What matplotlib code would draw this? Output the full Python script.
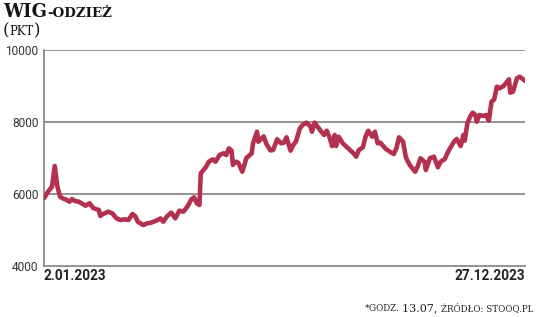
import matplotlib
matplotlib.use("Agg")
import matplotlib.pyplot as plt
import numpy as np
import pandas as pd

# ---- data ----
start_date = "2023-01-02"
day_offsets = [0, 3, 6, 8, 10, 12, 14, 17, 19, 21, 23, 26, 28, 31, 34, 37, 41, 42, 44, 48,
               51, 54, 57, 60, 63, 66, 68, 70, 74, 77, 80, 84, 87, 89, 92, 95, 98, 101, 104, 107,
               110, 112, 114, 116, 117, 119, 121, 123, 126, 128, 131, 134, 136, 138, 140, 141, 143, 145, 148, 151,
               155, 156, 159, 160, 164, 166, 169, 171, 174, 177, 179, 181, 184, 186, 188, 191, 193, 196, 199, 200,
               202, 206, 209, 211, 213, 215, 217, 218, 220, 223, 227, 231, 233, 235, 238, 240, 242, 245, 247, 249,
               251, 255, 258, 261, 263, 265, 268, 270, 271, 273, 277, 279, 281, 284, 285, 288, 291, 294, 296, 299,
               302, 306, 308, 311, 313, 314, 316, 318, 320, 322, 323, 325, 328, 330, 332, 334, 336, 338, 340, 343,
               347, 348, 350, 353, 355, 359]
values = [5881, 6064, 6203, 6778, 6203, 5925, 5880, 5833, 5786, 5861, 5805, 5786, 5742, 5675, 5742, 5603, 5556, 5389, 5444, 5508,
          5464, 5325, 5278, 5297, 5278, 5444, 5389, 5231, 5139, 5186, 5203, 5265, 5320, 5231, 5389, 5481, 5325, 5536, 5508, 5647,
          5853, 5908, 5742, 5694, 6575, 6667, 6758, 6897, 6964, 6897, 7083, 7131, 7083, 7269, 7203, 6806, 6897, 6869, 6619, 6992,
          7131, 7408, 7731, 7453, 7600, 7390, 7210, 7222, 7519, 7408, 7425, 7575, 7203, 7361, 7453, 7825, 7917, 7981, 7869, 7731,
          7981, 7778, 7639, 7758, 7592, 7333, 7639, 7333, 7592, 7408, 7269, 7131, 7036, 7222, 7297, 7592, 7758, 7592, 7731, 7408,
          7425, 7255, 7180, 7111, 7269, 7575, 7453, 7036, 6944, 6806, 6619, 6778, 6992, 6897, 6667, 6992, 7036, 6742, 6897, 6964,
          7203, 7453, 7528, 7333, 7639, 7481, 7964, 8147, 8258, 8194, 8008, 8194, 8167, 8194, 8036, 8564, 8628, 8981, 8936, 9000,
          9186, 8814, 8842, 9214, 9258, 9147]
y_ticks = [4000, 6000, 8000, 10000]
x_tick_labels = ["2.01.2023", "27.12.2023"]
title_main = "WIG"
title_sc = "-ODZIEŻ"
unit_label = "PKT"

dates = pd.Timestamp(start_date) + pd.to_timedelta(day_offsets, unit="D")

W, H = 536, 317
fig = plt.figure(figsize=(W / 100, H / 100), dpi=100)
ax = fig.add_axes([44 / W, 1 - 266 / H, (525 - 44) / W, (266 - 50) / H])

line_color = "#B3304F"
grid_color = "#8a8a8a"

ax.plot(dates, values, color=line_color, lw=3.3, solid_joinstyle="round", solid_capstyle="round", zorder=3)
ax.set_ylim(4000, 10000)
ax.set_xlim(dates[0], dates[-1])
ax.set_yticks(y_ticks)
ax.set_yticklabels([str(t) for t in y_ticks])
for t in y_ticks[1:]:
    ax.axhline(t, color=grid_color, lw=1.3, zorder=1)
for s in ["top", "right"]:
    ax.spines[s].set_visible(False)
for s in ["left", "bottom"]:
    ax.spines[s].set_color(grid_color)
    ax.spines[s].set_linewidth(1.3)
ax.tick_params(axis="both", length=0)
ax.tick_params(axis="y", pad=4, labelcolor="#333333")
for lab in ax.get_yticklabels():
    lab.set_family(["Roboto", "DejaVu Sans"])
    lab.set_fontsize(8.6)

ax.set_xticks([dates[0], dates[-1]])
ax.set_xticklabels(x_tick_labels)
ax.tick_params(axis="x", pad=2, labelcolor="#222222")
xl = ax.get_xticklabels()
for lab, ha in zip(xl, ["left", "right"]):
    lab.set_ha(ha)
    lab.set_family(["Roboto", "DejaVu Sans"])
    lab.set_fontsize(9.8)
    lab.set_fontweight("bold")

renderer = fig.canvas.get_renderer()


def seq_text(pieces, x_px, y_px, align="left"):
    """pieces: list of (text, fontsize, kwargs). y_px is baseline from top."""
    objs = []
    widths = []
    for txt, fs, kw in pieces:
        t = fig.text(0, 0, txt, fontsize=fs, va="baseline", ha="left", **kw)
        objs.append(t)
        widths.append(t.get_window_extent(renderer).width)
    total = sum(widths)
    x = x_px if align == "left" else x_px - total
    for t, w in zip(objs, widths):
        t.set_position((x / W, 1 - y_px / H))
        x += w
    return objs


serif = {"family": "DejaVu Serif", "color": "#151515"}
seq_text([(title_main, 13.0, dict(weight="bold", **serif)),
          (title_sc, 9.6, dict(weight="bold", **serif))], 3, 17)
seq_text([("(", 12.0, dict(**serif)),
          (unit_label, 8.4, dict(**serif)),
          (")", 12.0, dict(**serif))], 3, 35)

fn = {"family": "DejaVu Serif", "color": "#222222"}
seq_text([("*", 6.5, dict(**fn)),
          ("GODZ. ", 6.3, dict(**fn)),
          ("13.07, ", 8.0, dict(**fn)),
          ("ŹRÓDŁO: STOOQ.PL", 6.3, dict(**fn))], 533, 311, align="right")

fig.savefig("out.png", dpi=100)
